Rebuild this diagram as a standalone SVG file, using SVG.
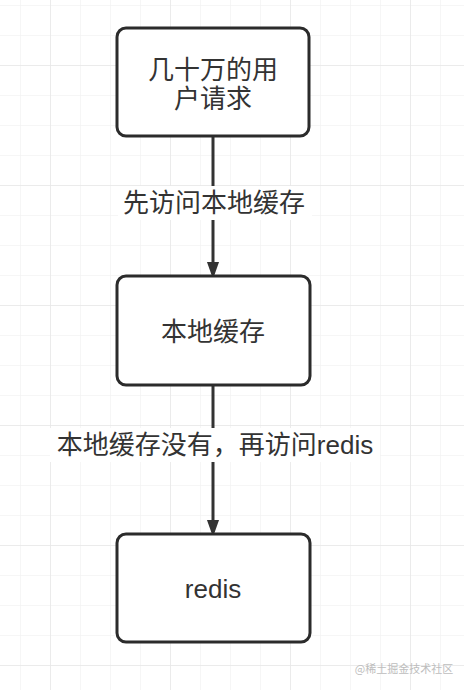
<svg xmlns="http://www.w3.org/2000/svg" width="464" height="690" viewBox="0 0 464 690">
<defs>
<pattern id="minor" x="20" y="5" width="30" height="30" patternUnits="userSpaceOnUse">
<path d="M0 0 H30 M0 0 V30" fill="none" stroke="#f3f3f3" stroke-width="1.5"/>
</pattern>
<pattern id="major" x="50" y="65" width="120" height="120" patternUnits="userSpaceOnUse">
<path d="M0 0 H120 M0 0 V120" fill="none" stroke="#e8e8e8" stroke-width="1.5"/>
</pattern>
<marker id="arrow" markerUnits="userSpaceOnUse" markerWidth="18" markerHeight="25" refX="17" refY="8.5" orient="auto" viewBox="0 0 25 17">
<path d="M0 0 L24 8.5 L0 17 Z" fill="#333"/>
</marker>
</defs>
<style>
.box{fill:#fff;stroke:#2b2b2b;stroke-width:3}
.t{font-family:"Liberation Sans","Noto Sans CJK SC",sans-serif;font-size:26px;fill:#333;text-anchor:middle}
.edge{stroke:#333;stroke-width:3;fill:none}
.lbl{fill:#fff}
</style>
<rect width="464" height="690" fill="#fff"/>
<rect width="464" height="690" fill="url(#minor)"/>
<rect width="464" height="690" fill="url(#major)"/>
<g id="connectors">
<line class="edge" x1="213" y1="136" x2="213" y2="274" marker-end="url(#arrow)"/>
<rect class="lbl" x="118" y="186" width="194" height="34"/>
<text class="t" x="214" y="212">先访问本地缓存</text>
<line class="edge" x1="213" y1="385" x2="213" y2="532" marker-end="url(#arrow)"/>
<rect class="lbl" x="50" y="428" width="330" height="34"/>
<text class="t" x="215" y="454">本地缓存没有，再访问redis</text>
</g>
<g id="node1">
<rect class="box" x="117" y="28" width="192" height="108" rx="9"/>
<text class="t" x="213" y="79">几十万的用</text>
<text class="t" x="213" y="108">户请求</text>
</g>
<g id="node2">
<rect class="box" x="117" y="276" width="193" height="109" rx="9"/>
<text class="t" x="213" y="341">本地缓存</text>
</g>
<g id="node3">
<rect class="box" x="117" y="534" width="193" height="108" rx="9"/>
<text class="t" x="213" y="598">redis</text>
</g>
<text x="404" y="673" font-family="'Noto Sans CJK SC',sans-serif" font-size="11" fill="#bdbdbd" text-anchor="middle">@稀土掘金技术社区</text>
</svg>
